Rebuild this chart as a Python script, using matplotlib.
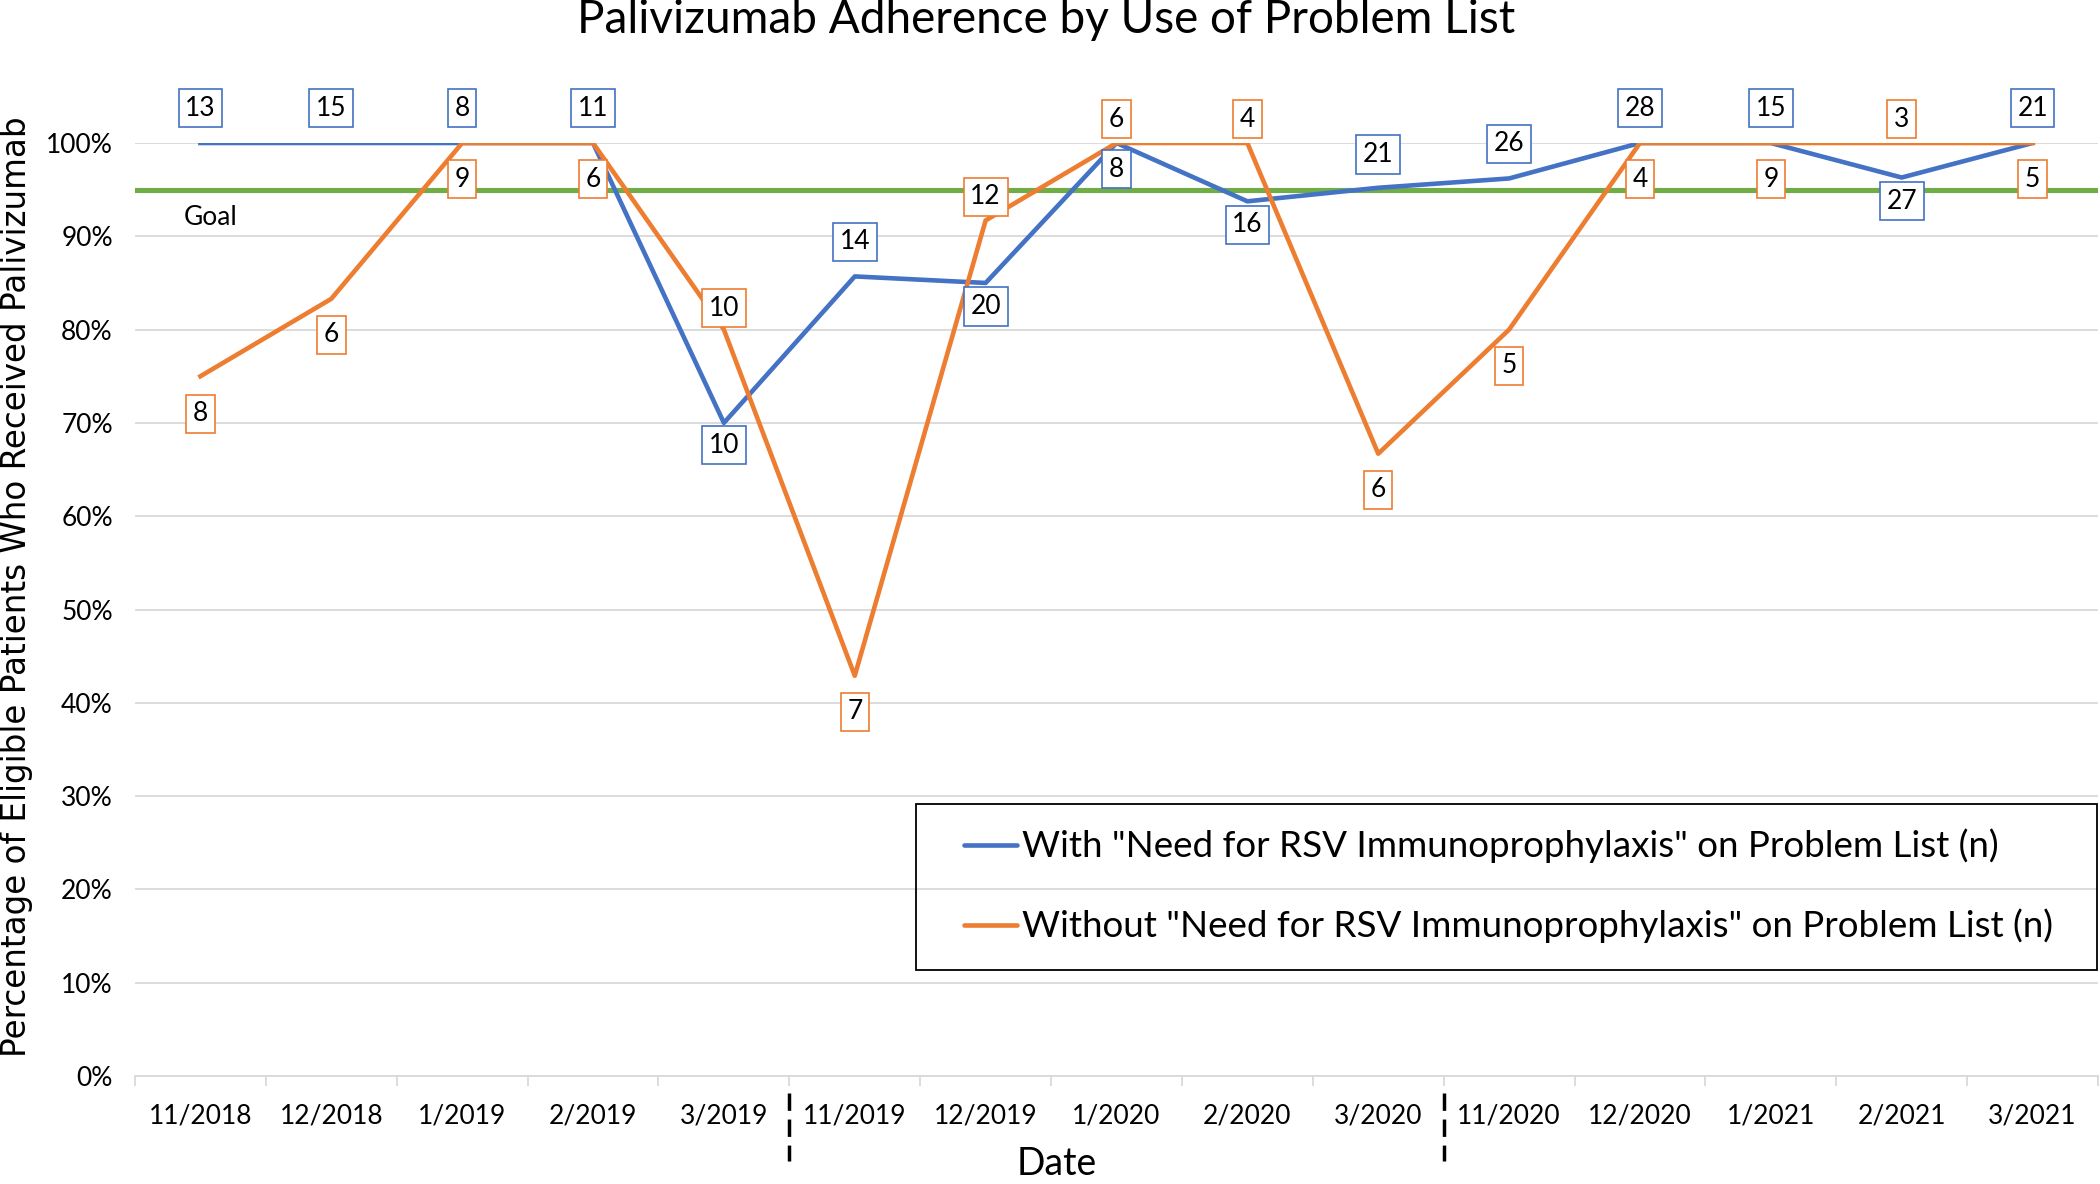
import numpy as np
import matplotlib
matplotlib.use("Agg")
import matplotlib.pyplot as plt
import matplotlib.transforms as mtransforms
from matplotlib.patches import Rectangle
from matplotlib.lines import Line2D
from matplotlib.ticker import PercentFormatter

# dados
meses = ["11/2018", "12/2018", "1/2019", "2/2019", "3/2019",
         "11/2019", "12/2019", "1/2020", "2/2020", "3/2020",
         "11/2020", "12/2020", "1/2021", "2/2021", "3/2021"]
com_lista = [1.0, 1.0, 1.0, 1.0, 0.70, 0.857, 0.85, 1.0, 0.9375, 0.952,
             0.962, 1.0, 1.0, 0.963, 1.0]
sem_lista = [0.75, 0.833, 1.0, 1.0, 0.80, 0.429, 0.917, 1.0, 1.0, 0.667,
             0.80, 1.0, 1.0, 1.0, 1.0]
n_com = [13, 15, 8, 11, 10, 14, 20, 8, 16, 21, 26, 28, 15, 27, 21]
n_sem = [8, 6, 9, 6, 10, 7, 12, 6, 4, 6, 5, 4, 9, 3, 5]
meta = 0.95
separadores = [4.5, 9.5]

rotulo_com = 'With "Need for RSV Immunoprophylaxis" on Problem List (n)'
rotulo_sem = 'Without "Need for RSV Immunoprophylaxis" on Problem List (n)'

# deslocamento vertical dos rotulos (pontos)
desloc_com = [25, 25, 25, 25, -16, 25, -17, -19, -17, 24, 25, 25, 25, -17, 25]
desloc_sem = [-27, -26, -26, -26, 15.5, -26, 17, 17, 17, -26, -26, -26, -26, 17, -26]

AZUL = "#4472C4"
LARANJA = "#ED7D31"
VERDE = "#70AD47"
FONTE = "Lato"
LW = 3.3

plt.rcParams["font.family"] = [FONTE, "DejaVu Sans"]

fig = plt.figure(figsize=(21, 11.84), dpi=100)
ax = fig.add_axes([135 / 2100, 1 - 1076 / 1184, 1963 / 2100, 933 / 1184])

x = np.arange(len(meses))

ax.axhline(meta, color=VERDE, lw=3.7, zorder=2)
ax.plot(x, com_lista, color=AZUL, lw=LW, zorder=3)
ax.plot(x, sem_lista, color=LARANJA, lw=LW, zorder=4)

for i in range(len(meses)):
    ax.annotate(str(n_com[i]), (x[i], com_lista[i]), xytext=(0, desloc_com[i]),
                textcoords="offset points", ha="center", va="center", fontsize=19,
                bbox=dict(boxstyle="square,pad=0.25", fc="white", ec=AZUL, lw=1.2),
                zorder=6, annotation_clip=False)
    ax.annotate(str(n_sem[i]), (x[i], sem_lista[i]), xytext=(0, desloc_sem[i]),
                textcoords="offset points", ha="center", va="center", fontsize=19,
                bbox=dict(boxstyle="square,pad=0.25", fc="white", ec=LARANJA, lw=1.2),
                zorder=6, annotation_clip=False)

ax.text(-0.13, 0.92, "Goal", fontsize=19, ha="left", va="center")

ax.set_xlim(-0.5, len(meses) - 0.5)
ax.set_ylim(0, 1.0)
ax.set_yticks(np.arange(0, 1.01, 0.1))
ax.yaxis.set_major_formatter(PercentFormatter(1.0, decimals=0))
ax.yaxis.grid(True, color="#D9D9D9", lw=1.3)
ax.set_axisbelow(True)

ax.set_xticks(x)
ax.set_xticklabels(meses)
ax.set_xticks(np.arange(-0.5, len(meses), 1), minor=True)
ax.tick_params(axis="x", which="major", length=0, pad=20, labelsize=19)
ax.tick_params(axis="x", which="minor", length=7, width=1.3, color="#D9D9D9")
ax.tick_params(axis="y", length=0, pad=16, labelsize=19)

for lado in ["left", "right", "top"]:
    ax.spines[lado].set_visible(False)
ax.spines["bottom"].set_color("#D9D9D9")
ax.spines["bottom"].set_linewidth(1.3)

# linhas tracejadas entre temporadas
trans = mtransforms.blended_transform_factory(ax.transData, ax.transAxes)
for s in separadores:
    ax.plot([s, s], [-0.018, -0.091], transform=trans, color="black", lw=2.5,
            dashes=(5, 2.5), clip_on=False)

fig.text(17 / 2100, 1 - 587 / 1184,
         "Percentage of Eligible Patients Who Received Palivizumab",
         family="DejaVu Sans", fontsize=23.5, rotation=90, ha="center", va="center")

fig.text(0.498, 0.983, "Palivizumab Adherence by Use of Problem List",
         fontsize=33, ha="center", va="center")
fig.text(1057 / 2100, 1 - 1175 / 1184, "Date", fontsize=27, ha="center", va="baseline")

# legenda com moldura propria
ax.add_patch(Rectangle((0.398, 0.114), 0.6015, 0.177, transform=ax.transAxes,
                       fill=False, ec="black", lw=1.3, clip_on=False, zorder=7))
alcas = [Line2D([], [], color=AZUL, lw=LW, solid_capstyle="round"),
         Line2D([], [], color=LARANJA, lw=LW, solid_capstyle="round")]
ax.legend(alcas, [rotulo_com, rotulo_sem], loc="center left",
          bbox_to_anchor=(0.4223, 0.2035), frameon=False, fontsize=26.5,
          handlelength=1.45, handletextpad=0.12, labelspacing=1.23, borderpad=0,
          borderaxespad=0)

fig.savefig("out.png", dpi=100)
